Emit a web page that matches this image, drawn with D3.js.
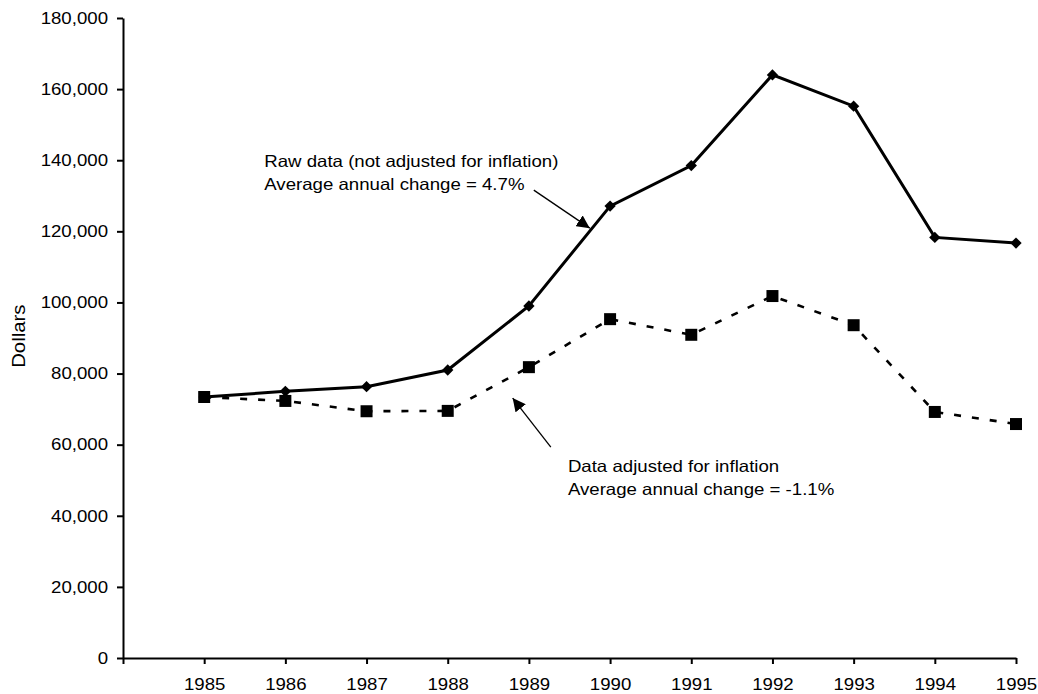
<!DOCTYPE html>
<html>
<head>
<meta charset="UTF-8">
<script src="https://d3js.org/d3.v7.min.js"></script>
<style>
  body { margin: 0; background: #fff; }
  svg { display: block; font-family: "Liberation Sans", Arial, sans-serif; }
  .axis path, .axis line { stroke: #000; stroke-width: 2px; }
  .axis text { font-size: 16.5px; fill: #000; }
</style>
</head>
<body>
<svg id="chart" width="1038" height="694"></svg>
<script>
// data
const years = [1985, 1986, 1987, 1988, 1989, 1990, 1991, 1992, 1993, 1994, 1995];
const rawValues = [73400, 75000, 76300, 81000, 99000, 127100, 138500, 164000, 155200, 118300, 116700];
const adjustedValues = [73400, 72300, 69400, 69500, 81800, 95300, 90900, 101800, 93600, 69200, 65800];
const yTicks = [0, 20000, 40000, 60000, 80000, 100000, 120000, 140000, 160000, 180000];

const rawNote = ["Raw data (not adjusted for inflation)", "Average annual change = 4.7%"];
const adjNote = ["Data adjusted for inflation", "Average annual change = -1.1%"];

const width = 1038, height = 694;
const margin = { left: 123, right: 22, top: 18, bottom: 36 };
const sx = 1.13; // the source text is a bit wide

const svg = d3.select("#chart");

const x = d3.scaleLinear()
    .domain([1984, 1995])
    .range([margin.left, width - margin.right]);

const y = d3.scaleLinear()
    .domain([0, 180000])
    .range([height - margin.bottom, margin.top]);

// axes
svg.append("g")
    .attr("class", "axis")
    .attr("transform", `translate(0,${height - margin.bottom})`)
    .call(d3.axisBottom(x).tickValues([1984].concat(years)).tickFormat(d => d === 1984 ? "" : d)
        .tickSize(6).tickSizeOuter(0))
    .call(g => g.selectAll("text").attr("y", 32).attr("dy", 0)
        .attr("transform", `scale(${sx},1)`));

svg.append("g")
    .attr("class", "axis")
    .attr("transform", `translate(${margin.left},0)`)
    .call(d3.axisLeft(y).tickValues(yTicks).tickFormat(d3.format(",")).tickSize(6).tickSizeOuter(0))
    .call(g => g.selectAll("text").attr("x", -15 / sx).attr("transform", `scale(${sx},1)`));

svg.append("text")
    .attr("transform", `translate(25,${y(90500)}) rotate(-90) scale(${sx},1)`)
    .attr("text-anchor", "middle")
    .style("font-size", "18px")
    .text("Dollars");

// lines
const line = d3.line().x((d, i) => x(years[i])).y(d => y(d));

svg.append("path")
    .datum(adjustedValues)
    .attr("d", line)
    .attr("fill", "none")
    .attr("stroke", "#000")
    .attr("stroke-width", 2.6)
    .attr("stroke-dasharray", "7,11");

svg.append("path")
    .datum(rawValues)
    .attr("d", line)
    .attr("fill", "none")
    .attr("stroke", "#000")
    .attr("stroke-width", 3);

// markers
svg.selectAll(".diamond")
    .data(rawValues)
    .join("path")
    .attr("class", "diamond")
    .attr("d", d3.symbol(d3.symbolSquare, 64))
    .attr("transform", (d, i) => `translate(${x(years[i])},${y(d)}) rotate(45)`)
    .attr("fill", "#000");

svg.selectAll(".square")
    .data(adjustedValues)
    .join("path")
    .attr("class", "square")
    .attr("d", d3.symbol(d3.symbolSquare, 144))
    .attr("transform", (d, i) => `translate(${x(years[i])},${y(d)})`)
    .attr("fill", "#000");

// annotations
svg.append("defs").append("marker")
    .attr("id", "arrow")
    .attr("viewBox", "0 0 10 10")
    .attr("refX", 10).attr("refY", 5)
    .attr("markerWidth", 13).attr("markerHeight", 13)
    .attr("markerUnits", "userSpaceOnUse")
    .attr("orient", "auto")
    .append("path")
    .attr("d", "M0,0L10,5L0,10Z")
    .attr("fill", "#000");

function note(lines, tx, ty, from, to) {
    const t = svg.append("text")
        .attr("transform", `translate(${x(tx)},${y(ty)}) scale(${sx},1)`)
        .style("font-size", "16.5px");
    lines.forEach((s, i) => t.append("tspan").attr("x", 0).attr("dy", i ? 23 : 0).text(s));
    svg.append("line")
        .attr("x1", x(from[0])).attr("y1", y(from[1]))
        .attr("x2", x(to[0])).attr("y2", y(to[1]))
        .attr("stroke", "#000").attr("stroke-width", 1.3)
        .attr("marker-end", "url(#arrow)");
}

note(rawNote, 1985.74, 138100, [1989.06, 131600], [1989.75, 120900]);
note(adjNote, 1989.48, 52300, [1989.27, 59300], [1988.80, 73100]);
</script>
</body>
</html>
